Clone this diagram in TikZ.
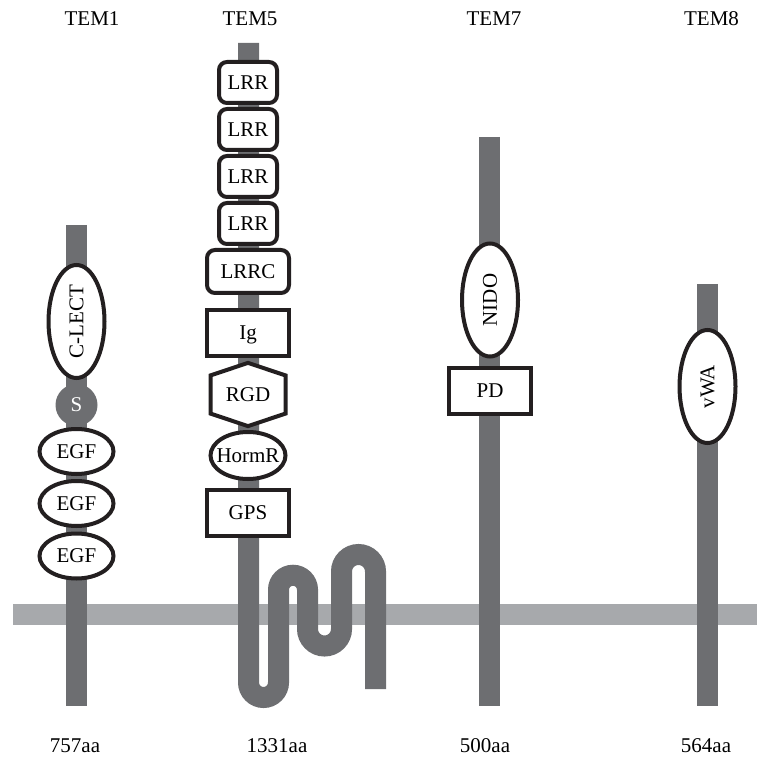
\documentclass[tikz,border=0pt]{standalone}
\usepackage{fontspec}
\setmainfont{Liberation Serif}
\usetikzlibrary{shapes.geometric, shapes.symbols}

\definecolor{stalkgray}{HTML}{6D6E71}
\definecolor{membranegray}{HTML}{A7A9AC}
\definecolor{domainline}{HTML}{231F20}

\begin{document}
\begin{tikzpicture}[x=0.5pt, y=-0.5pt,
  stalk/.style={stalkgray, line width=10.5pt},
  domainbox/.style={draw=domainline, line width=2pt, fill=white, inner sep=0pt,
    text height=6.9pt, text depth=0pt, font=\fontsize{10.5}{12}\selectfont},
  lrrbox/.style={domainbox, rectangle, rounded corners=4pt, minimum width=29pt, minimum height=20.5pt},
  lrrcbox/.style={domainbox, rectangle, rounded corners=4pt, minimum width=41pt, minimum height=21.5pt},
  sqbox/.style={domainbox, rectangle, minimum width=41pt, minimum height=23pt},
  hexbox/.style={domainbox, signal, signal to=north and south, signal pointer angle=143,
    minimum width=37.5pt, minimum height=26.5pt},
  egfellipse/.style={domainbox, ellipse, minimum width=37pt, minimum height=22.5pt},
  vellipse/.style={domainbox, ellipse, rotate=90, minimum width=56.5pt, minimum height=28pt},
  sdot/.style={circle, fill=stalkgray, text=white, inner sep=0pt, minimum size=21pt,
    font=\fontsize{10.5}{12}\selectfont},
  protname/.style={font=\fontsize{10.5}{12}\selectfont, inner sep=0pt},
  lentext/.style={font=\fontsize{10.5}{12}\selectfont, inner sep=0pt}]
\useasboundingbox (0,0) rectangle (757,758);
% Membrane
\fill[membranegray] (13,604) rectangle (757,625);
% Stalks
\draw[stalk] (76.5,225) -- (76.5,706);
\draw[stalk] (248.5,43) -- (248.5,682.5)
  arc[start angle=180, end angle=0, radius=15] -- (278.5,589.75)
  arc[start angle=180, end angle=360, radius=14.5] -- (307.5,629)
  arc[start angle=180, end angle=0, radius=17] -- (341.5,571.5)
  arc[start angle=180, end angle=360, radius=17] -- (375.5,689);
\draw[stalk] (489.5,137) -- (489.5,706);
\draw[stalk] (707.5,284) -- (707.5,706);
% TEM1
\node[vellipse] (clect) at (76.5,321.5) {C-LECT};
\node[sdot] (s) at (76.5,405) {S};
\foreach \y [count=\i] in {451.5,503.5,556}
  \node[egfellipse] (egf\i) at (76.5,\y) {EGF};
% TEM5
\foreach \y [count=\i] in {82.5,129.5,176.5,223.5}
  \node[lrrbox] (lrr\i) at (248,\y) {LRR};
\node[lrrcbox] (lrrc) at (248,271.5) {LRRC};
\node[sqbox] (ig) at (248,333) {Ig};
\node[hexbox] (rgd) at (248,394.5) {RGD};
\node[egfellipse, inner xsep=-4pt, minimum width=37.5pt, minimum height=23.5pt] (hormr) at (248,455.5) {HormR};
\node[sqbox] (gps) at (248,513) {GPS};
% TEM7
\node[vellipse] (nido) at (490,300) {NIDO};
\node[sqbox] (pd) at (490,391) {PD};
% TEM8
\node[vellipse] (vwa) at (707.5,386.5) {vWA};
% Names and lengths
\node[protname] (tem1) at (92,19) {TEM1};
\node[protname] (tem5) at (250,19) {TEM5};
\node[protname] (tem7) at (494,19) {TEM7};
\node[protname] (tem8) at (711.5,19) {TEM8};
\node[lentext] (len1) at (75,746) {757aa};
\node[lentext] (len5) at (277,746) {1331aa};
\node[lentext] (len7) at (485,746) {500aa};
\node[lentext] (len8) at (706,746) {564aa};
\end{tikzpicture}
\end{document}
